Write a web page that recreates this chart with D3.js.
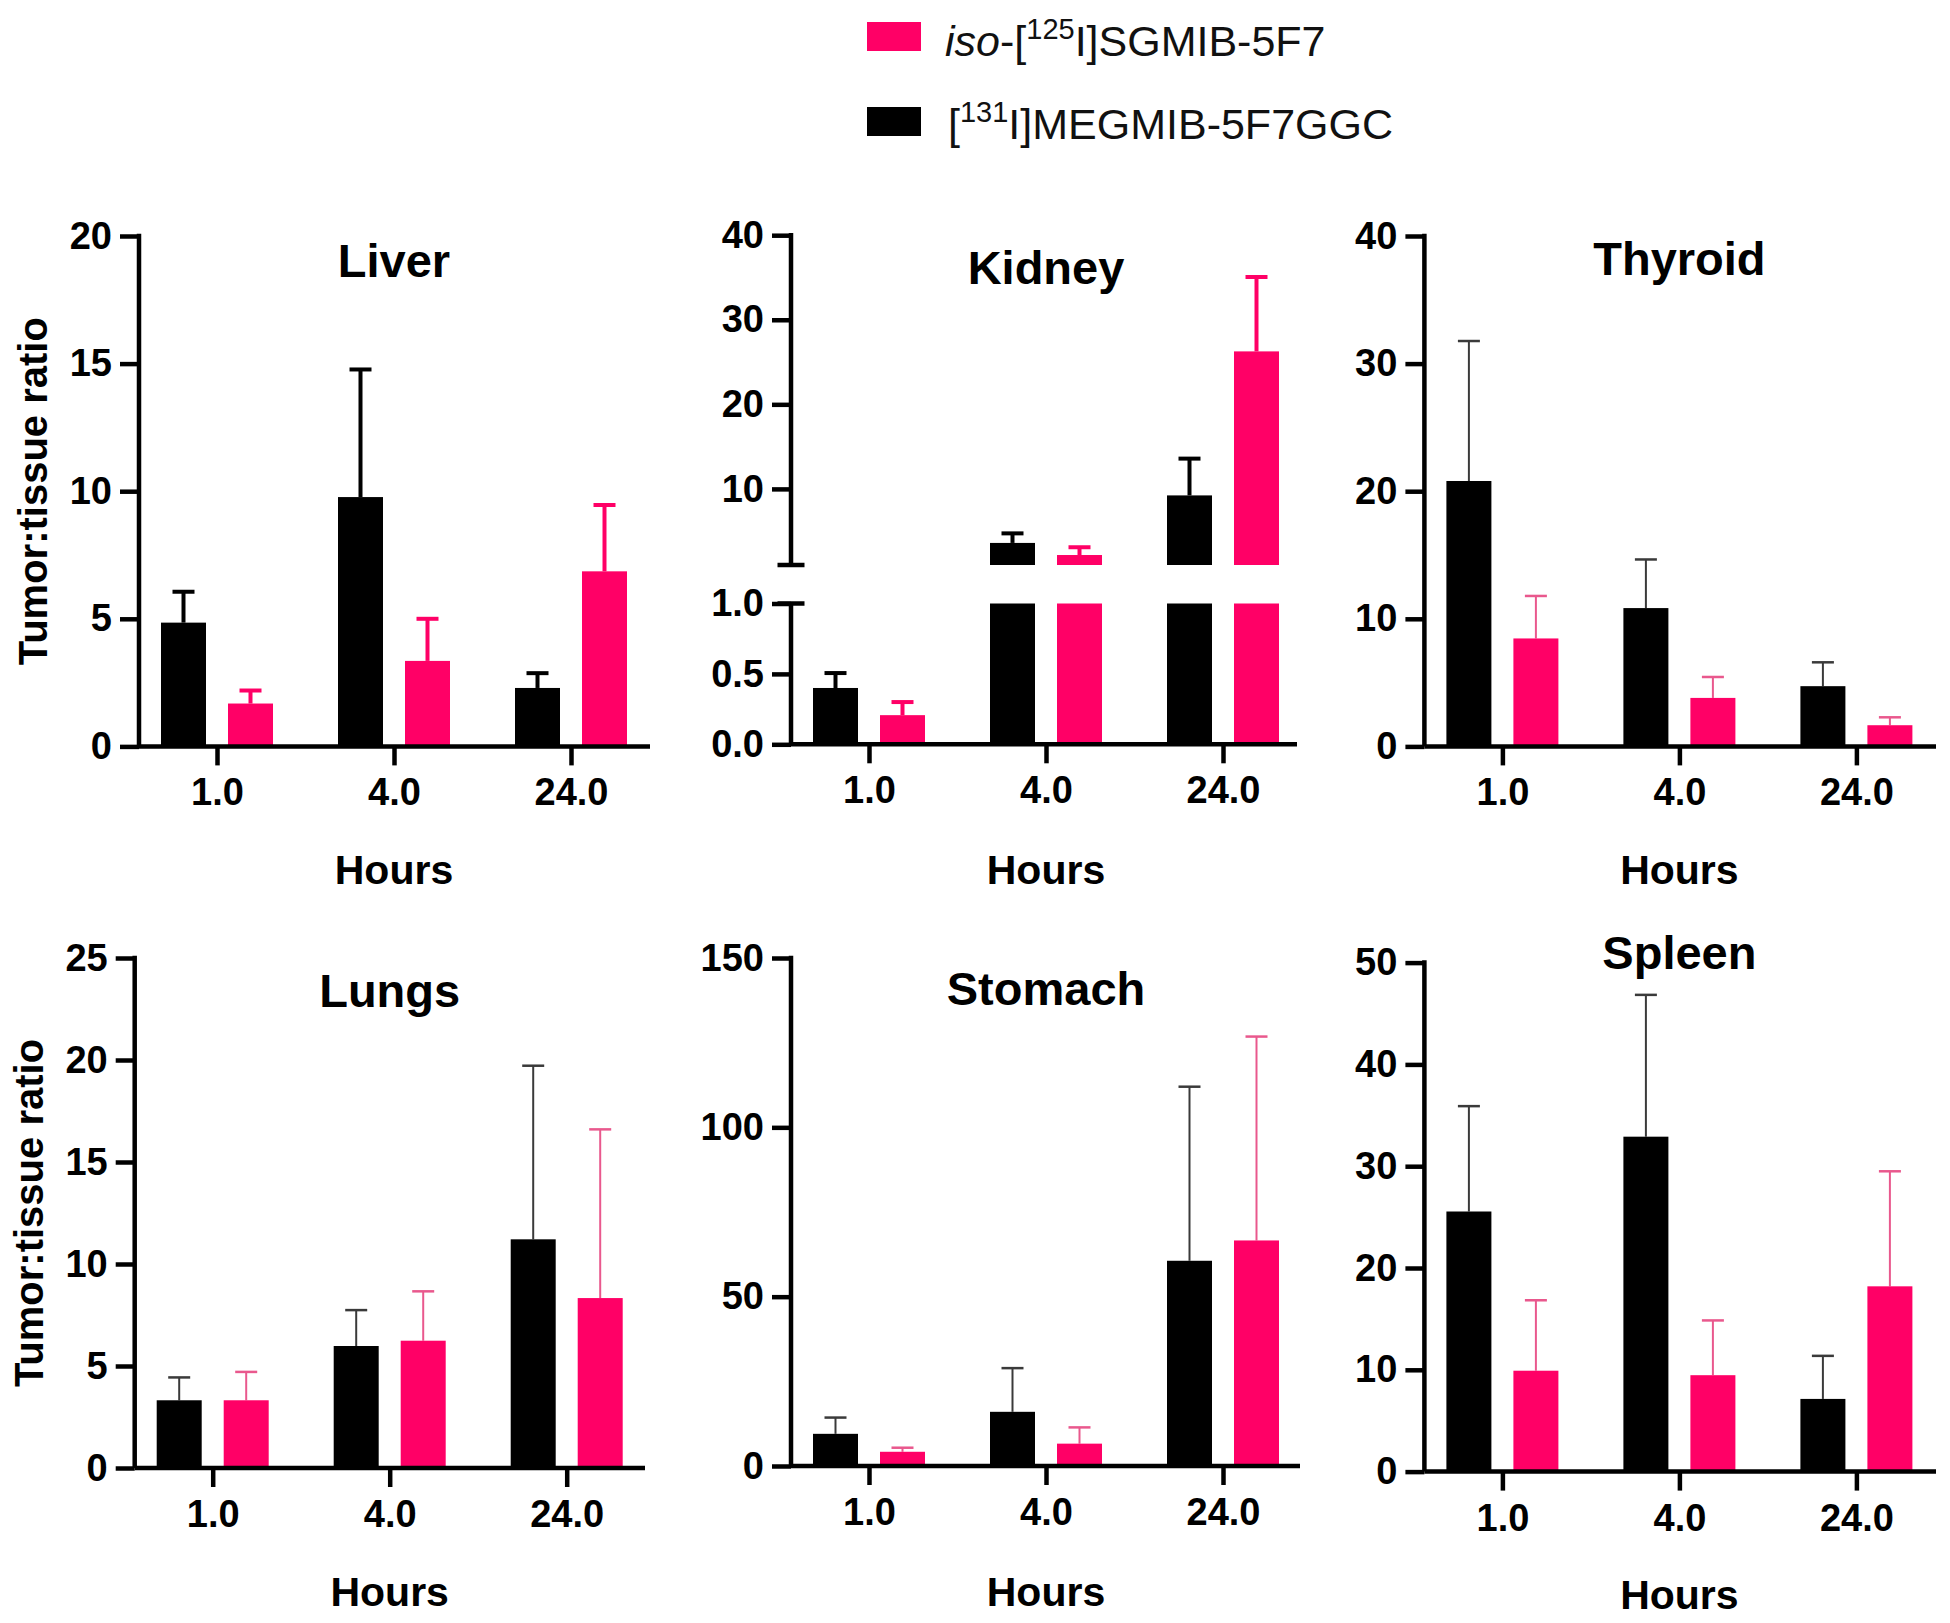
<!DOCTYPE html>
<html><head><meta charset="utf-8">
<script src="https://cdn.jsdelivr.net/npm/d3@7"></script>
<style>
body{margin:0;background:#fff}
svg text{font-family:"Liberation Sans",Arial,Helvetica,sans-serif}
</style>
</head><body>
<svg id="chart" width="1950" height="1623"></svg>
<script>
// ---------------- DATA ----------------
const hours = ["1.0", "4.0", "24.0"];
const seriesLabels = ["iso-[125I]SGMIB-5F7", "[131I]MEGMIB-5F7GGC"];

// [131I]MEGMIB-5F7GGC (black) means / SD ; iso-[125I]SGMIB-5F7 (pink) means / SD
const liverMEG = [4.85, 9.77, 2.29],   liverMEGsd = [1.21, 5.00, 0.58];
const liverSG  = [1.68, 3.35, 6.86],   liverSGsd  = [0.51, 1.65, 2.60];
const kidneyMEG = [0.40, 3.61, 9.23],  kidneyMEGsd = [0.106, 1.13, 4.35];
const kidneySG  = [0.207, 2.18, 26.26], kidneySGsd = [0.093, 0.92, 8.80];
const thyroidMEG = [20.8, 10.84, 4.72], thyroidMEGsd = [10.97, 3.81, 1.87];
const thyroidSG  = [8.46, 3.80, 1.66],  thyroidSGsd  = [3.33, 1.64, 0.62];
const lungsMEG = [3.32, 5.98, 11.21],  lungsMEGsd = [1.12, 1.76, 8.51];
const lungsSG  = [3.32, 6.24, 8.33],   lungsSGsd  = [1.39, 2.42, 8.27];
const stomachMEG = [9.5, 16.0, 60.6],  stomachMEGsd = [4.8, 12.9, 51.4];
const stomachSG  = [4.2, 6.6, 66.6],   stomachSGsd  = [1.2, 4.8, 60.2];
const spleenMEG = [25.55, 32.9, 7.14], spleenMEGsd = [10.35, 13.93, 4.23];
const spleenSG  = [9.91, 9.47, 18.2],  spleenSGsd  = [6.92, 5.38, 11.3];

const liverTicks = [0, 5, 10, 15, 20];
const kidneyTicksTop = [10, 20, 30, 40];
const kidneyTicksBottom = [0, 0.5, 1.0];
const thyroidTicks = [0, 10, 20, 30, 40];
const lungsTicks = [0, 5, 10, 15, 20, 25];
const stomachTicks = [0, 50, 100, 150];
const spleenTicks = [0, 10, 20, 30, 40, 50];

// ---------------- STYLE / LAYOUT ----------------
const PINK = "#ff0066", BLACK = "#000000";
const THIN_BLACK = "#3a3a3a", THIN_PINK = "#e9588d";
const svg = d3.select("#chart");

const panels = [
  {title:"Liver", meg:liverMEG, megSd:liverMEGsd, sg:liverSG, sgSd:liverSGsd, ticks:liverTicks, fmt:d3.format("d"),
   ax:139, xEnd:650, y0:746.4, y1:236, titleY:277, hoursY:884, ylabel:true, ylabelX:47, thick:true},
  {title:"Kidney", meg:kidneyMEG, megSd:kidneyMEGsd, sg:kidneySG, sgSd:kidneySGsd, broken:true,
   ax:791, xEnd:1297, y0:744.3, y1:235.2, titleY:284, hoursY:884, thick:true},
  {title:"Thyroid", meg:thyroidMEG, megSd:thyroidMEGsd, sg:thyroidSG, sgSd:thyroidSGsd, ticks:thyroidTicks, fmt:d3.format("d"),
   ax:1424.4, xEnd:1936, y0:746.4, y1:236, titleY:275, hoursY:884},
  {title:"Lungs", meg:lungsMEG, megSd:lungsMEGsd, sg:lungsSG, sgSd:lungsSGsd, ticks:lungsTicks, fmt:d3.format("d"),
   ax:134.7, xEnd:645, y0:1468, y1:958, titleY:1007, hoursY:1606, ylabel:true, ylabelX:43},
  {title:"Stomach", meg:stomachMEG, megSd:stomachMEGsd, sg:stomachSG, sgSd:stomachSGsd, ticks:stomachTicks, fmt:d3.format("d"),
   ax:791, xEnd:1300, y0:1466, y1:958, titleY:1005, hoursY:1606},
  {title:"Spleen", meg:spleenMEG, megSd:spleenMEGsd, sg:spleenSG, sgSd:spleenSGsd, ticks:spleenTicks, fmt:d3.format("d"),
   ax:1424.4, xEnd:1936, y0:1471.6, y1:962.6, titleY:969, hoursY:1609}
];

const AXW = 4.5, TICK = 19, BARW = 45, OFF = 33.5;
const TICKFONT = 38;

function styleAxis(g){
  g.selectAll("path.domain").remove();
  g.selectAll(".tick line").attr("stroke", "#000").attr("stroke-width", AXW);
  g.selectAll(".tick text").attr("fill", "#000").attr("font-size", TICKFONT).attr("font-weight", "bold");
}

panels.forEach(p => {
  const g = svg.append("g");
  const x = d3.scalePoint().domain(hours).range([p.ax + 78, p.ax + 432]);
  const cx = x(hours[1]);

  if (p.broken) {
    const yTop = d3.scaleLinear().domain([1, 40]).range([565, p.y1]);
    const yBot = d3.scaleLinear().domain([0, 1]).range([p.y0, 603.5]);
    const gt = g.append("g").attr("transform", `translate(${p.ax},0)`)
      .call(d3.axisLeft(yTop).tickValues(kidneyTicksTop).tickSize(TICK).tickSizeOuter(0).tickPadding(8).tickFormat(d3.format("d")));
    styleAxis(gt);
    const gb = g.append("g").attr("transform", `translate(${p.ax},0)`)
      .call(d3.axisLeft(yBot).tickValues(kidneyTicksBottom).tickSize(TICK).tickSizeOuter(0).tickPadding(8).tickFormat(d3.format(".1f")));
    styleAxis(gb);
    g.append("line").attr("x1", p.ax).attr("x2", p.ax).attr("y1", yTop(40) - AXW/2).attr("y2", yTop(1))
      .attr("stroke", "#000").attr("stroke-width", AXW);
    g.append("line").attr("x1", p.ax).attr("x2", p.ax).attr("y1", yBot(1)).attr("y2", yBot(0))
      .attr("stroke", "#000").attr("stroke-width", AXW);
    [yTop(1), yBot(1)].forEach(yy => {
      g.append("line").attr("x1", p.ax - 13.5).attr("x2", p.ax + 13.5).attr("y1", yy).attr("y2", yy)
        .attr("stroke", "#000").attr("stroke-width", AXW);
    });
    const drawBar = (vals, sds, dx, color) => {
      vals.forEach((v, i) => {
        const bx = x(hours[i]) + dx - BARW/2;
        const top = v > 1 ? yTop(v) : yBot(v);
        const cap = v > 1 ? yTop(v + sds[i]) : yBot(v + sds[i]);
        const exc = x(hours[i]) + dx;
        g.append("line").attr("x1", exc).attr("x2", exc).attr("y1", top).attr("y2", cap)
          .attr("stroke", color).attr("stroke-width", 4);
        g.append("line").attr("x1", exc - 11).attr("x2", exc + 11).attr("y1", cap).attr("y2", cap)
          .attr("stroke", color).attr("stroke-width", 4);
        if (v > 1) {
          g.append("rect").attr("x", bx).attr("width", BARW).attr("y", yBot(1)).attr("height", yBot(0) - yBot(1)).attr("fill", color);
          g.append("rect").attr("x", bx).attr("width", BARW).attr("y", yTop(v)).attr("height", yTop(1) - yTop(v)).attr("fill", color);
        } else {
          g.append("rect").attr("x", bx).attr("width", BARW).attr("y", yBot(v)).attr("height", yBot(0) - yBot(v)).attr("fill", color);
        }
      });
    };
    drawBar(p.meg, p.megSd, -OFF, BLACK);
    drawBar(p.sg, p.sgSd, OFF, PINK);
  } else {
    const y = d3.scaleLinear().domain([0, d3.max(p.ticks)]).range([p.y0, p.y1]);
    const ga = g.append("g").attr("transform", `translate(${p.ax},0)`)
      .call(d3.axisLeft(y).tickValues(p.ticks).tickSize(TICK).tickSizeOuter(0).tickPadding(8).tickFormat(p.fmt));
    styleAxis(ga);
    g.append("line").attr("x1", p.ax).attr("x2", p.ax).attr("y1", y(d3.max(p.ticks)) - AXW/2).attr("y2", y(0))
      .attr("stroke", "#000").attr("stroke-width", AXW);
    const ew = p.thick ? 4 : 2;
    const drawBar = (vals, sds, dx, color, ecolor) => {
      vals.forEach((v, i) => {
        const c = x(hours[i]) + dx;
        const top = y(v), cap = y(v + sds[i]);
        g.append("line").attr("x1", c).attr("x2", c).attr("y1", top).attr("y2", cap)
          .attr("stroke", ecolor).attr("stroke-width", ew);
        g.append("line").attr("x1", c - 11).attr("x2", c + 11).attr("y1", cap).attr("y2", cap)
          .attr("stroke", ecolor).attr("stroke-width", ew + (p.thick ? 0 : 0.5));
        g.append("rect").attr("x", c - BARW/2).attr("width", BARW).attr("y", top).attr("height", y(0) - top).attr("fill", color);
      });
    };
    drawBar(p.meg, p.megSd, -OFF, BLACK, p.thick ? BLACK : THIN_BLACK);
    drawBar(p.sg, p.sgSd, OFF, PINK, p.thick ? PINK : THIN_PINK);
  }

  g.append("line").attr("x1", p.ax).attr("x2", p.xEnd).attr("y1", p.y0).attr("y2", p.y0)
    .attr("stroke", "#000").attr("stroke-width", AXW);
  const gx = g.append("g").attr("transform", `translate(0,${p.y0})`)
    .call(d3.axisBottom(x).tickSize(TICK).tickSizeOuter(0).tickPadding(13));
  styleAxis(gx);

  g.append("text").attr("x", cx).attr("y", p.titleY).attr("text-anchor", "middle")
    .attr("font-size", 47).attr("font-weight", "bold").text(p.title);
  g.append("text").attr("x", cx).attr("y", p.hoursY).attr("text-anchor", "middle")
    .attr("font-size", 41).attr("font-weight", "bold").text("Hours");
  if (p.ylabel) {
    g.append("text").attr("transform", `translate(${p.ylabelX},${(p.y0 + p.y1) / 2}) rotate(-90)`)
      .attr("text-anchor", "middle").attr("font-size", 40).attr("font-weight", "bold").text("Tumor:tissue ratio");
  }
});

// ---------------- LEGEND ----------------
const leg = svg.append("g");
const legendItems = [
  {color: PINK, rectY: 22, textY: 56, textX: 945, parts: [{t:"iso", italic:true}, {t:"-["}, {t:"125", sup:true}, {t:"I]SGMIB-5F7"}]},
  {color: BLACK, rectY: 107, textY: 139, textX: 948, parts: [{t:"["}, {t:"131", sup:true}, {t:"I]MEGMIB-5F7GGC"}]}
];
legendItems.forEach(it => {
  leg.append("rect").attr("x", 867).attr("y", it.rectY).attr("width", 54).attr("height", 29).attr("fill", it.color);
  const t = leg.append("text").attr("x", it.textX).attr("y", it.textY).attr("font-size", 43).attr("fill", "#111");
  it.parts.forEach((pt, k) => {
    const s = t.append("tspan").text(pt.t);
    if (pt.italic) s.attr("font-style", "italic");
    if (pt.sup) s.attr("font-size", 29).attr("dy", -17);
    else if (k > 0 && it.parts[k - 1].sup) s.attr("dy", 17);
  });
});
</script>
</body></html>
